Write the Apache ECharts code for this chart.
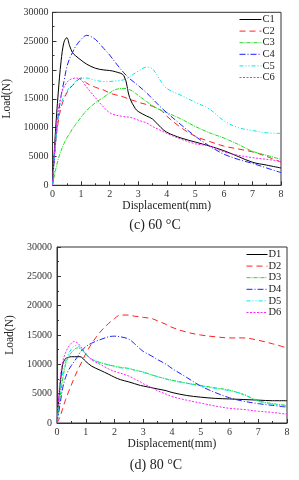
<!DOCTYPE html>
<html><head><meta charset="utf-8">
<script src="https://cdn.jsdelivr.net/npm/echarts@6/dist/echarts.min.js"></script>
<style>html,body{margin:0;padding:0;background:#fff}#c{width:299px;height:480px}</style>
</head><body><div id="c"></div>
<script>
var xs = [0,0.1,0.2,0.3,0.4,0.5,0.6,0.7,0.8,1.0,1.2,1.5,1.8,2.0,2.2,2.5,2.7,2.9,3.0,3.3,3.5,3.8,4.0,4.5,5.0,5.5,6.0,6.5,7.0,7.5,8.0];
var C1 = [0,9000,16000,21500,24800,25600,24200,23000,22500,21700,21000,20300,20000,19900,19700,19000,15200,13300,12800,12000,11500,10000,9200,8200,7500,6800,6000,5000,4000,3500,3000];
var C2 = [0,7000,11000,13500,15000,16000,16800,17300,17800,18600,17700,17000,16500,16000,15700,15300,14900,14600,14400,14000,13700,13000,12000,10000,8500,7600,6800,6300,5800,5000,4000];
var C3 = [0,2500,4500,6000,7200,8200,9000,9800,10500,11800,13000,14300,15300,16000,16600,16800,16600,16000,15600,14500,13800,13000,12600,11500,10200,9100,8200,7100,5900,5200,4500];
var C4 = [0,7000,12000,15500,18000,20500,22000,23000,24000,25300,26000,25300,23700,22600,21300,19500,18500,17700,17300,16000,15000,13500,12600,10500,8500,6800,5400,4500,3800,3000,2200];
var C5 = [0,7000,11500,14000,15500,16300,17000,17500,18000,18500,18600,18200,18000,18000,18100,18300,18800,19500,19800,20500,20200,18000,16800,15600,14400,13200,11200,10000,9500,9100,9000];
var C6 = [0,8000,13000,15500,17000,17800,18300,18500,18600,18300,17000,15200,13500,12600,12200,11900,11800,11500,11300,10800,10200,9500,9000,8000,7200,6800,5800,5200,4800,4500,4200];
var D1 = [0,6000,10000,11000,11200,11300,11300,11300,11300,10500,9700,9000,8300,7800,7400,7000,6700,6400,6300,6000,5800,5500,5200,4700,4400,4200,4100,4000,3900,3800,3800];
var D2 = [0,1000,2500,4000,5300,6500,7700,8800,9800,11800,13500,15500,17000,17800,18400,18400,18200,18100,18000,17800,17400,16800,16300,15500,15000,14700,14500,14500,14100,13500,12800];
var D3 = [0,4000,7500,10000,11300,12000,12500,12800,12700,11800,10900,10300,9900,9700,9500,9300,9000,8800,8700,8200,7900,7500,7300,6800,6400,6000,5600,4800,3800,3300,3000];
var D4 = [0,3000,6000,7800,9000,9800,10500,11200,12000,13000,13600,14200,14700,14800,14700,14300,13500,12600,12200,11400,10800,10000,9300,7800,6300,5200,4300,3700,3300,3000,2700];
var D5 = [0,5000,8500,10500,11800,12600,13100,13200,12900,11700,10900,10300,9900,9600,9400,9300,9000,8800,8600,8200,7900,7500,7200,6800,6300,5900,5500,4900,3700,3200,2900];
var D6 = [0,7000,10500,12000,13000,13600,13900,13700,13200,11800,10800,10000,9200,8800,8500,8000,7500,7000,6700,6000,5500,4900,4500,3900,3400,2900,2500,2300,2000,1800,1500];
var namesTop = ['C1','C2','C3','C4','C5','C6'];
var namesBot = ['D1','D2','D3','D4','D5','D6'];
var captionTop = '(c) 60 °C';
var captionBot = '(d) 80 °C';
var xTitle = 'Displacement(mm)';
var yTitle = 'Load(N)';

var colors = ['#000000','#ff2020','#22dd22','#2020ff','#00e8e8','#ff20ff'];
var dashes = ['solid',[6,4],[4,1,1,1],[6,2,1,2],[4,2,1,2,1,2],[2,1.5]];
var FONT = 'Liberation Serif';

function pairs(y){ return xs.map(function(x,i){return [x,y[i]];}); }
function mkSeries(names, arrs, idx){
  return names.map(function(n,i){
    return {name:n,type:'line',xAxisIndex:idx,yAxisIndex:idx,data:pairs(arrs[i]),
      smooth:0.35,showSymbol:false,symbol:'none',
      lineStyle:{color:colors[i],width:1,type:dashes[i]},itemStyle:{color:colors[i]}};
  });
}
function xAx(idx, gap){
  return {type:'value',gridIndex:idx,min:0,max:8,interval:1,
    name:xTitle,nameLocation:'middle',nameGap:gap,
    nameTextStyle:{fontFamily:FONT,fontSize:11.5,color:'#222'},
    axisLine:{lineStyle:{color:'#333',width:1}},
    axisTick:{inside:true,length:4,lineStyle:{color:'#333'}},
    minorTick:{show:true,splitNumber:2,length:2,lineStyle:{color:'#333'}},
    axisLabel:{fontFamily:FONT,fontSize:10,color:'#333',margin:4},
    splitLine:{show:false}};
}
function yAx(idx, gap, margin){
  return {type:'value',gridIndex:idx,min:0,max:30000,interval:5000,
    name:yTitle,nameLocation:'middle',nameGap:gap,
    nameTextStyle:{fontFamily:FONT,fontSize:11.5,color:'#222'},
    axisLine:{show:true,lineStyle:{color:'#333',width:1}},
    axisTick:{show:true,inside:true,length:4,lineStyle:{color:'#333'}},
    minorTick:{show:true,splitNumber:2,length:2,lineStyle:{color:'#333'}},
    axisLabel:{fontFamily:FONT,fontSize:10,color:'#333',margin:margin,formatter:function(v){return String(v);}},
    splitLine:{show:false}};
}
var legendCommon = {orient:'vertical',itemHeight:8,itemGap:0.6,
  itemStyle:{opacity:0},lineStyle:{width:1},
  textStyle:{fontFamily:FONT,fontSize:10.5,color:'#222',padding:[0,0,0,-4]}};
var chart = echarts.init(document.getElementById('c'),null,{renderer:'canvas'});
chart.setOption({
  animation:false,
  backgroundColor:'#fff',
  grid:[
    {left:52.5,top:12.3,width:228.5,height:173,show:true,borderColor:'#333',borderWidth:1,backgroundColor:'transparent',outerBoundsMode:'none',containLabel:false},
    {left:57,top:247,width:230,height:176,show:true,borderColor:'#333',borderWidth:1,backgroundColor:'transparent',outerBoundsMode:'none',containLabel:false}
  ],
  xAxis:[xAx(0,15),xAx(1,15)],
  yAxis:[yAx(0,36,4),yAx(1,40,5)],
  legend:[
    Object.assign({data:namesTop,left:234,top:9,itemWidth:22},legendCommon),
    Object.assign({data:namesBot,left:241,top:244,itemWidth:21},legendCommon)
  ],
  graphic:[
    {type:'text',x:155,y:218,style:{text:captionTop,font:'14px "Liberation Serif"',fill:'#222',align:'center'}},
    {type:'text',x:156,y:458,style:{text:captionBot,font:'14px "Liberation Serif"',fill:'#222',align:'center'}}
  ],
  series:mkSeries(namesTop,[C1,C2,C3,C4,C5,C6],0).concat(mkSeries(namesBot,[D1,D2,D3,D4,D5,D6],1))
});
</script></body></html>
